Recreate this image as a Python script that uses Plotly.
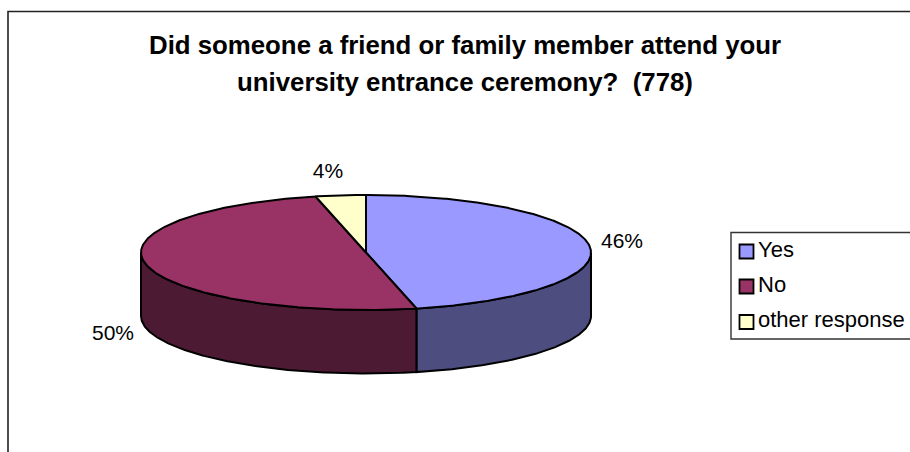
import numpy as np
import plotly.graph_objects as go

# Survey responses (778 in total)
categories = ["Yes", "No", "other response"]
counts = [361, 389, 28]
title_lines = [
    "Did someone a friend or family member attend your",
    "university entrance ceremony?  (778)",
]

top_colors = ["#9999FF", "#993366", "#FFFFCC"]
side_colors = ["#4D4D80", "#4D1A33", "#808066"]
OUTLINE = "#000000"
FONT = "Liberation Sans, Arial, sans-serif"

# Layout of the tilted disc, in plot units (one unit per pixel)
CX, CY, RX, RY, DEPTH = 366.0, 252.5, 225.0, 57.5, 63.5
label_pos = [(622, 243), (113, 335), (328, 173)]
legend_y = [251.5, 286.5, 322]


def rim(a0, a1, dz=0.0):
    """Points on the disc's edge; angles are degrees clockwise from the back."""
    n = max(2, int(abs(a1 - a0)) * 2 + 1)
    t = np.radians(np.linspace(a0, a1, n))
    return CX + RX * np.sin(t), CY - RY * np.cos(t) + dz


total = sum(counts)
shares = [c / total for c in counts]
edges = np.concatenate([[0.0], np.cumsum(shares) * 360.0])

fig = go.Figure()

# Visible side walls: only the front half of the disc (90 to 270 degrees)
for i in range(len(counts)):
    a0, a1 = max(edges[i], 90.0), min(edges[i + 1], 270.0)
    if a1 <= a0:
        continue
    xt, yt = rim(a0, a1)
    xb, yb = rim(a1, a0, DEPTH)
    fig.add_trace(go.Scatter(
        x=np.concatenate([xt, xb, xt[:1]]), y=np.concatenate([yt, yb, yt[:1]]),
        mode="lines", fill="toself", fillcolor=side_colors[i],
        line=dict(color=OUTLINE, width=2), hoverinfo="skip", showlegend=False,
    ))

# Top faces
for i, name in enumerate(categories):
    xr, yr = rim(edges[i], edges[i + 1])
    fig.add_trace(go.Scatter(
        x=np.concatenate([[CX], xr, [CX]]), y=np.concatenate([[CY], yr, [CY]]),
        mode="lines", fill="toself", fillcolor=top_colors[i],
        line=dict(color=OUTLINE, width=2), name=name, showlegend=False,
        hoverinfo="name",
    ))

# Percentage labels
fig.add_trace(go.Scatter(
    x=[p[0] for p in label_pos], y=[p[1] for p in label_pos],
    text=[f"{round(s * 100)}%" for s in shares],
    mode="text", textposition="middle center",
    textfont=dict(family=FONT, size=21, color="#000000"),
    hoverinfo="skip", showlegend=False,
))

# Legend swatches and names
fig.add_trace(go.Scatter(
    x=[746.5] * len(categories), y=legend_y, mode="markers",
    marker=dict(symbol="square", size=14, color=top_colors,
                line=dict(color=OUTLINE, width=1.8)),
    hoverinfo="skip", showlegend=False,
))
fig.add_trace(go.Scatter(
    x=[758] * len(categories), y=[v - 0.5 for v in legend_y], text=categories,
    mode="text", textposition="middle right",
    textfont=dict(family=FONT, size=22, color="#000000"),
    hoverinfo="skip", showlegend=False,
))

shapes = [
    # Chart frame: only its left and top edges fall inside the page
    dict(type="path", path="M 8 460 L 8 11.5 L 920 11.5",
         line=dict(color="#222222", width=1.6)),
    # Legend box, running off the right side
    dict(type="path", path="M 920 232.5 L 731 232.5 L 731 339 L 920 339",
         line=dict(color="#333333", width=1.4)),
]

annotations = [
    dict(x=465, y=y, text=f"<b>{line}</b>", showarrow=False, xanchor="center",
         yanchor="middle", font=dict(family=FONT, size=25.8, color="#000000"))
    for line, y in zip(title_lines, [45, 82])
]

fig.update_layout(
    width=910, height=452, margin=dict(l=0, r=0, t=0, b=0),
    paper_bgcolor="#FFFFFF", plot_bgcolor="#FFFFFF", showlegend=False,
    xaxis=dict(range=[0, 910], visible=False, fixedrange=True),
    yaxis=dict(range=[452, 0], visible=False, fixedrange=True),
    shapes=shapes, annotations=annotations,
)

fig.write_html("out.html", config=dict(displayModeBar=False))
